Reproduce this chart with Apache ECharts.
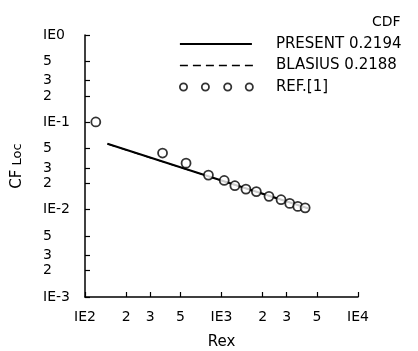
<!DOCTYPE html>
<html>
<head>
<meta charset="utf-8">
<script src="https://cdn.jsdelivr.net/npm/echarts@6/dist/echarts.min.js"></script>
<style>
  html, body { margin: 0; padding: 0; background: #fff; }
  #main { width: 418px; height: 351px; }
</style>
</head>
<body>
<div id="main"></div>
<script>
  // values (Rex, CF loc)
  var presentLine = [[146, 0.0568], [1000, 0.0216], [4300, 0.0104]]
  var blasiusLine = [[146, 0.0566], [1000, 0.0215], [4300, 0.0103]]
  var refPoints = [
    [120, 0.101], [370, 0.0445], [550, 0.0341], [802, 0.0249], [1047, 0.0216],
    [1253, 0.0188], [1510, 0.0172], [1800, 0.0161], [2228, 0.0142],
    [2730, 0.0130], [3162, 0.0118], [3622, 0.0109], [4100, 0.0105]
  ]
  var xTickValues = [100, 200, 300, 500, 1000, 2000, 3000, 5000, 10000]
  var xTickLabels = ['IE2', '2', '3', '5', 'IE3', '2', '3', '5', 'IE4']
  var yTickValues = [0.001, 0.002, 0.003, 0.005, 0.01, 0.02, 0.03, 0.05, 0.1, 0.2, 0.3, 0.5, 1]
  var yTickLabels = ['IE-3', '2', '3', '5', 'IE-2', '2', '3', '5', 'IE-1', '2', '3', '5', 'IE0']
  var seriesNames = ['PRESENT 0.2194', 'BLASIUS 0.2188', 'REF.[1]']

  var myChart = echarts.init(document.getElementById('main'))

  function toLog(arr) {
    return arr.map(function (p) {
      return [Math.log10(p[0]), Math.log10(p[1])]
    })
  }
  function labelFor(values, labels) {
    return function (v) {
      for (var i = 0; i < values.length; i++) {
        if (Math.abs(Math.log10(values[i]) - v) < 1e-6) return labels[i]
      }
      return ''
    }
  }
  var xTicks = xTickValues.map(Math.log10)
  var yTicks = yTickValues.map(Math.log10)
  var font = 'DejaVu Sans'

  var option = {
    animation: false,
    title: {
      text: 'CDF',
      left: 367,
      top: 10,
      textStyle: { fontFamily: font, fontSize: 14, fontWeight: 'normal', color: '#000' }
    },
    legend: {
      orient: 'vertical',
      left: 179,
      top: 36,
      padding: 0,
      itemGap: 5.5,
      itemWidth: 91,
      itemHeight: 14,
      selectedMode: false,
      textStyle: { fontFamily: font, fontSize: 15, color: '#000', lineHeight: 16 },
      data: [
        {
          name: seriesNames[0],
          icon: 'path://M0,0h72v1.8h-72z M91,0',
          itemStyle: { color: '#000', borderWidth: 0 }
        },
        {
          name: seriesNames[1],
          icon: 'path://M0,0h8v1.4h-8z M13,0h8v1.4h-8z M26,0h8v1.4h-8z M39,0h8v1.4h-8z M52,0h8v1.4h-8z M65,0h8v1.4h-8z M91,0',
          itemStyle: { color: '#000', borderWidth: 0 }
        },
        {
          name: seriesNames[2],
          icon: 'path://M2.5,3.5a3.5,3.5 0 1,0 7,0a3.5,3.5 0 1,0 -7,0z M23.8,3.5a3.5,3.5 0 1,0 7,0a3.5,3.5 0 1,0 -7,0z M45.5,3.5a3.5,3.5 0 1,0 7,0a3.5,3.5 0 1,0 -7,0z M66.5,3.5a3.5,3.5 0 1,0 7,0a3.5,3.5 0 1,0 -7,0z M91,3.5',
          itemStyle: { color: 'rgba(0,0,0,0)', borderColor: '#000', borderWidth: 1.8 }
        }
      ]
    },
    grid: { left: 85, right: 60, top: 35, bottom: 54, outerBoundsMode: 'none', containLabel: false },
    xAxis: {
      type: 'value',
      min: 2,
      max: 4,
      name: 'Rex',
      nameLocation: 'middle',
      nameGap: 38,
      nameTextStyle: { fontFamily: font, fontSize: 15, color: '#000' },
      axisLine: { onZero: false, lineStyle: { color: '#000', width: 1.5 } },
      axisTick: { inside: true, length: 5, customValues: xTicks, lineStyle: { color: '#000', width: 1.2 } },
      axisLabel: {
        customValues: xTicks,
        formatter: labelFor(xTickValues, xTickLabels),
        margin: 13,
        fontFamily: font,
        fontSize: 14,
        color: '#000'
      },
      splitLine: { show: false }
    },
    yAxis: {
      type: 'value',
      min: -3,
      max: 0,
      name: '{a|CF}{b| Loc}',
      nameLocation: 'middle',
      nameGap: 60,
      nameTextStyle: {
        fontFamily: font,
        color: '#000',
        rich: {
          a: { fontFamily: font, fontSize: 15, color: '#000' },
          b: { fontFamily: font, fontSize: 13, color: '#000' }
        }
      },
      axisLine: { show: true, onZero: false, lineStyle: { color: '#000', width: 1.5 } },
      axisTick: { show: true, inside: true, length: 5, customValues: yTicks, lineStyle: { color: '#000', width: 1.2 } },
      axisLabel: {
        customValues: yTicks,
        formatter: labelFor(yTickValues, yTickLabels),
        align: 'left',
        margin: 42,
        fontFamily: font,
        fontSize: 14,
        color: '#000'
      },
      splitLine: { show: false }
    },
    series: [
      {
        name: seriesNames[0],
        type: 'line',
        data: toLog(presentLine),
        showSymbol: false,
        symbol: 'none',
        lineStyle: { color: '#000', width: 2 },
        itemStyle: { color: '#000' },
        z: 3
      },
      {
        name: seriesNames[1],
        type: 'line',
        data: toLog(blasiusLine),
        showSymbol: false,
        symbol: 'none',
        lineStyle: { color: '#000', width: 1.2, type: [8, 5] },
        itemStyle: { color: '#000' },
        z: 2
      },
      {
        name: seriesNames[2],
        type: 'scatter',
        data: toLog(refPoints),
        symbol: 'circle',
        symbolSize: 9,
        itemStyle: { color: '#fff', borderColor: '#000', borderWidth: 1.8 },
        z: 4
      }
    ]
  }

  myChart.setOption(option)
  window.addEventListener('resize', function () {
    myChart.resize()
  })
</script>
</body>
</html>
